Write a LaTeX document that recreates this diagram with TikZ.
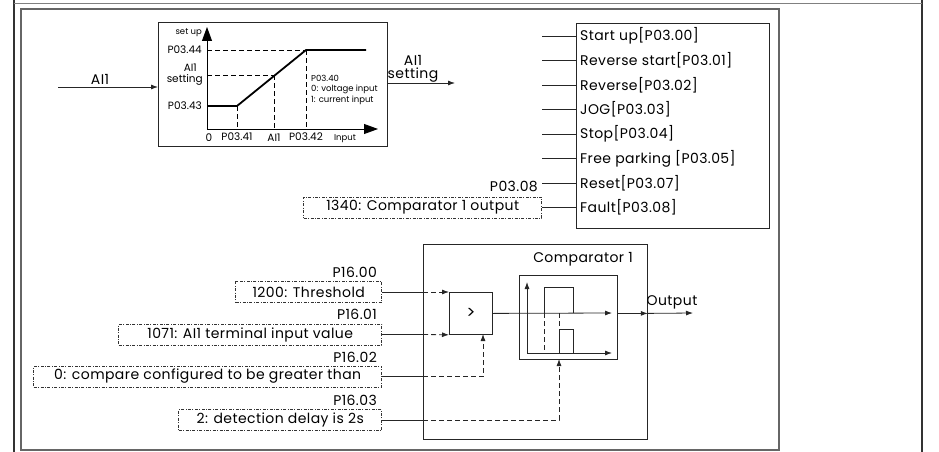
\documentclass[tikz,border=0pt]{standalone}
\usepackage{fontspec}
\setmainfont{Poppins}
\newfontfamily\spaced[LetterSpace=3]{Poppins}
\usetikzlibrary{arrows.meta}
\begin{document}
\begin{tikzpicture}[x=1pt,y=-1pt,
  ln/.style={line width=0.8pt, draw=black!85},
  arr/.style={ln,-{Latex[length=7pt,width=5pt]}},
  dsh/.style={dash pattern=on 5pt off 3pt},
  dbox/.style={draw=black!80, line width=0.6pt, dash pattern=on 3pt off 1.5pt on 0.8pt off 1.5pt, inner sep=0pt, minimum height=21pt, anchor=east, font=\spaced\fontsize{14}{16}\selectfont},
  item/.style={anchor=west, inner sep=0pt, font=\spaced\fontsize{14}{16}\selectfont},
  lbl/.style={inner sep=0pt, font=\spaced\fontsize{14}{16}\selectfont},
  sm/.style={inner sep=0pt, font=\fontsize{10.5}{12}\selectfont},
  tiny/.style={inner sep=0pt, font=\fontsize{8.5}{10.5}\selectfont, align=left}
]
\useasboundingbox (0,0) rectangle (939,452);
% frame
\draw[line width=1.2pt, black!80] (14,0) -- (14,452);
\draw[line width=1.2pt, black!80] (922,0) -- (922,452);
\draw[line width=0.8pt, black!50] (14,3) -- (922,3);
\draw[line width=1.4pt, black!60] (21,9) rectangle (779,450);

% ---------- chart ----------
\node[draw, ln, minimum width=229, minimum height=124, anchor=north west, inner sep=0pt] (chart) at (158,22) {};
\coordinate (O) at (207,129);
\draw[line width=0.8pt, -{Triangle[length=14pt,width=10pt]}] (O) -- (207,27);
\draw[line width=0.8pt, -{Triangle[length=14pt,width=10pt]}] (O) -- (378,129);
\draw[line width=1.8pt] (207,106) -- (237,106) -- (306,50) -- (366,50);
\draw[line width=0.6pt, dsh] (207,50) -- (306,50);
\draw[line width=0.6pt, dsh] (207,75) -- (274,75);
\draw[line width=0.6pt, dsh] (237,106) -- (237,129);
\draw[line width=0.6pt, dsh] (274,75) -- (274,129);
\draw[line width=0.6pt, dsh] (306,50) -- (306,129);
\node[tiny, anchor=east] (su) at (202,33) {set up};
\node[sm, anchor=east] (p44) at (202,50) {P03.44};
\node[sm, anchor=east] (ais1) at (197,68) {AI1};
\node[sm, anchor=east] (ais2) at (203,80) {setting};
\node[sm, anchor=east] (p43) at (202,106) {P03.43};
\node[sm] (z) at (209,138) {0};
\node[sm] (p41) at (237,137) {P03.41};
\node[sm] (xai) at (274,138) {AI1};
\node[sm] (p42) at (306,137) {P03.42};
\node[tiny] (inp) at (345,139) {Input};
\node[tiny, anchor=north west] (p40) at (311,75) {P03.40\\0: voltage input\\1: current input};

% input / output
\coordinate (ain) at (58,87);
\draw[arr] (ain) -- (chart.west |- ain);
\node[lbl] (ailbl) at (100,79) {AI1};
\coordinate (aout) at (455,83);
\draw[arr] (chart.east |- aout) -- (aout);
\node[lbl] (aslbl1) at (413,60) {AI1};
\node[lbl] (aslbl2) at (413,75.5) {setting};

% ---------- terminal block ----------
\node[draw, ln, minimum width=193, minimum height=205, anchor=north west, inner sep=0pt] (blk) at (576,23) {};
\foreach \t [count=\i from 0] in {Start up[P03.00],Reverse start[P03.01],Reverse[P03.02],JOG[P03.03],Stop[P03.04],Free parking [P03.05],Reset[P03.07],Fault[P03.08]} {
  \node[item] (it\i) at (580,{36+24.5*\i}) {\t};
  \coordinate (ie\i) at (542,{36+24.5*\i});
}
\foreach \i in {0,...,6} { \draw[ln] (ie\i) -- (blk.west |- ie\i); }
\node[lbl, anchor=east] (p0308) at (538,186) {P03.08};
\node[dbox, minimum width=238] (flt) at (542,207.5) {1340: Comparator 1 output};
\draw[ln] (flt.east) -- (blk.west |- flt.east);

% ---------- comparator ----------
\node[draw, ln, minimum width=224, minimum height=195, anchor=north west, inner sep=0pt] (cmp) at (423,244) {};
\node[lbl] (cmpl) at (583,259) {Comparator 1};
\node[draw, ln, minimum width=43, minimum height=42, anchor=north west, inner sep=0pt, font=\fontsize{17}{18}\selectfont] (gt) at (449,292) {>};
\node[draw, ln, minimum width=98, minimum height=84, anchor=north west, inner sep=0pt] (wav) at (519,275) {};

\node[lbl, anchor=east] (p1600) at (377,272) {P16.00};
\node[dbox, minimum width=146] (thr) at (382,292) {1200: Threshold};
\node[lbl, anchor=east] (p1601) at (377,314) {P16.01};
\node[dbox, minimum width=263] (ai) at (382,334.5) {1071: AI1 terminal input value};
\node[lbl, anchor=east] (p1602) at (377,357) {P16.02};
\node[dbox, minimum width=348] (cpr) at (382,376.5) {0: compare configured to be greater than};
\node[lbl, anchor=east] (p1603) at (377,400) {P16.03};
\node[dbox, minimum width=203] (dly) at (382,420) {2: detection delay is 2s};

\coordinate (c1) at (cmp.west |- thr.east);
\coordinate (c2) at (cmp.west |- ai.east);
\coordinate (c3) at (cmp.west |- cpr.east);
\coordinate (c4) at (cmp.west |- dly.east);
\draw[ln] (thr.east) -- (c1);
\draw[ln] (ai.east) -- (c2);
\draw[ln] (cpr.east) -- (c3);
\draw[ln] (dly.east) -- (c4);
\draw[arr, dsh] (c1) -- (gt.north west);
\draw[arr, dsh] (c2) -- (gt.south west);
\coordinate (gin) at (483,334);
\draw[arr, dsh] (c3) -| (gin);
\coordinate (win) at (559,359);
\draw[arr, dsh] (c4) -| (win);

% waveform
\draw[arr] (gt.east) -- (612,313);
\draw[arr] (527,353) -- (527,282);
\draw[arr] (527,353) -- (612,353);
\draw[ln] (544,313) -- (544,287) -- (573,287) -- (573,313);
\draw[ln, dsh] (544,313) -- (544,353);
\draw[ln] (559,353) -- (559,329) -- (573,329) -- (573,353);
\draw[ln, dsh] (559,313) -- (559,329);
\draw[arr] (wav.east |- gt.east) -- (cmp.east |- gt.east);
\coordinate (outp) at (693,313);
\draw[arr] (cmp.east |- gt.east) -- (outp);
\node[lbl] (outl) at (672,302) {Output};
\end{tikzpicture}
\end{document}
